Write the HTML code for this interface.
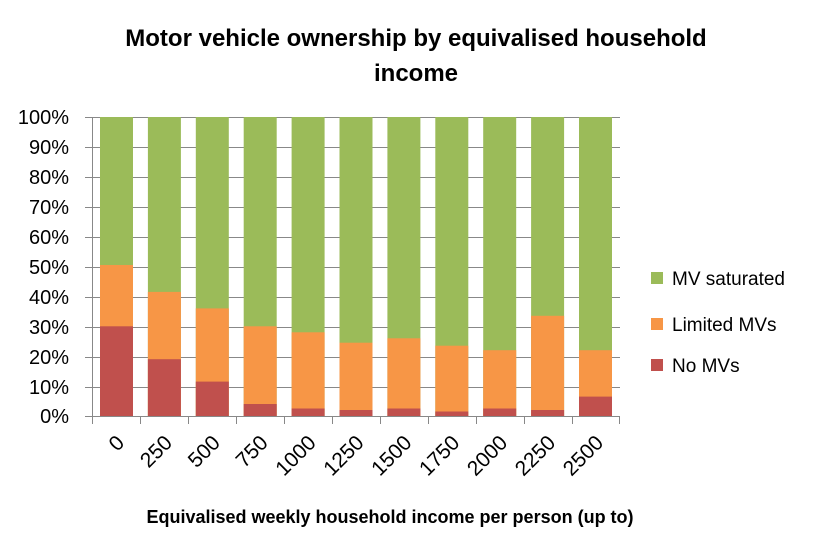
<!DOCTYPE html><html><head><style>body{margin:0;background:#fff}</style></head><body>
<svg width="832" height="553" xmlns="http://www.w3.org/2000/svg" font-family="Liberation Sans, sans-serif">
<rect width="832" height="553" fill="#fff"/>
<text x="416" y="46" text-anchor="middle" font-size="24" font-weight="bold">Motor vehicle ownership by equivalised household</text>
<text x="416" y="81" text-anchor="middle" font-size="24" font-weight="bold">income</text>
<g stroke="#888" stroke-width="1">
<line x1="85" y1="117.5" x2="620" y2="117.5"/><line x1="85" y1="147.5" x2="620" y2="147.5"/><line x1="85" y1="177.5" x2="620" y2="177.5"/><line x1="85" y1="207.5" x2="620" y2="207.5"/><line x1="85" y1="237.5" x2="620" y2="237.5"/><line x1="85" y1="267.5" x2="620" y2="267.5"/><line x1="85" y1="297.5" x2="620" y2="297.5"/><line x1="85" y1="327.5" x2="620" y2="327.5"/><line x1="85" y1="357.5" x2="620" y2="357.5"/><line x1="85" y1="387.5" x2="620" y2="387.5"/><line x1="85" y1="416.5" x2="620" y2="416.5"/>
<line x1="92.5" y1="117" x2="92.5" y2="424"/>
</g>
<g font-size="20" text-anchor="end" fill="#000">
<text x="69" y="124">100%</text><text x="69" y="154">90%</text><text x="69" y="184">80%</text><text x="69" y="214">70%</text><text x="69" y="244">60%</text><text x="69" y="274">50%</text><text x="69" y="304">40%</text><text x="69" y="334">30%</text><text x="69" y="364">20%</text><text x="69" y="394">10%</text><text x="69" y="423">0%</text>
</g>
<g fill="#9BBB59">
<rect x="100" y="117" width="33" height="299"/><rect x="147.9" y="117" width="33" height="299"/><rect x="195.8" y="117" width="33" height="299"/><rect x="243.7" y="117" width="33" height="299"/><rect x="291.6" y="117" width="33" height="299"/><rect x="339.5" y="117" width="33" height="299"/><rect x="387.4" y="117" width="33" height="299"/><rect x="435.3" y="117" width="33" height="299"/><rect x="483.2" y="117" width="33" height="299"/><rect x="531.1" y="117" width="33" height="299"/><rect x="579" y="117" width="33" height="299"/>
</g>
<g fill="#F79646">
<rect x="100" y="265" width="33" height="151"/><rect x="147.9" y="291.9" width="33" height="124.1"/><rect x="195.8" y="308.4" width="33" height="107.6"/><rect x="243.7" y="326.3" width="33" height="89.7"/><rect x="291.6" y="332.3" width="33" height="83.7"/><rect x="339.5" y="342.7" width="33" height="73.3"/><rect x="387.4" y="338.3" width="33" height="77.7"/><rect x="435.3" y="345.7" width="33" height="70.3"/><rect x="483.2" y="350.2" width="33" height="65.8"/><rect x="531.1" y="315.8" width="33" height="100.2"/><rect x="579" y="350.2" width="33" height="65.8"/>
</g>
<g fill="#C0504D">
<rect x="100" y="326.3" width="33" height="89.7"/><rect x="147.9" y="359.2" width="33" height="56.8"/><rect x="195.8" y="381.6" width="33" height="34.4"/><rect x="243.7" y="404" width="33" height="12"/><rect x="291.6" y="408.5" width="33" height="7.5"/><rect x="339.5" y="410" width="33" height="6"/><rect x="387.4" y="408.5" width="33" height="7.5"/><rect x="435.3" y="411.5" width="33" height="4.5"/><rect x="483.2" y="408.5" width="33" height="7.5"/><rect x="531.1" y="410" width="33" height="6"/><rect x="579" y="396.6" width="33" height="19.4"/>
</g>
<g stroke="#888"><line x1="85" y1="416.5" x2="620" y2="416.5"/><line x1="140.5" y1="416" x2="140.5" y2="424"/><line x1="188.5" y1="416" x2="188.5" y2="424"/><line x1="236.5" y1="416" x2="236.5" y2="424"/><line x1="284.5" y1="416" x2="284.5" y2="424"/><line x1="332.5" y1="416" x2="332.5" y2="424"/><line x1="380.5" y1="416" x2="380.5" y2="424"/><line x1="428.5" y1="416" x2="428.5" y2="424"/><line x1="476.5" y1="416" x2="476.5" y2="424"/><line x1="524.5" y1="416" x2="524.5" y2="424"/><line x1="572.5" y1="416" x2="572.5" y2="424"/><line x1="619.5" y1="416" x2="619.5" y2="424"/></g>
<g font-size="21" text-anchor="end">
<text x="125.5" y="444" transform="rotate(-45 125.5 444)">0</text>
<text x="173.4" y="444" transform="rotate(-45 173.4 444)">250</text>
<text x="221.3" y="444" transform="rotate(-45 221.3 444)">500</text>
<text x="269.2" y="444" transform="rotate(-45 269.2 444)">750</text>
<text x="317.1" y="444" transform="rotate(-45 317.1 444)">1000</text>
<text x="365" y="444" transform="rotate(-45 365 444)">1250</text>
<text x="412.9" y="444" transform="rotate(-45 412.9 444)">1500</text>
<text x="460.8" y="444" transform="rotate(-45 460.8 444)">1750</text>
<text x="508.7" y="444" transform="rotate(-45 508.7 444)">2000</text>
<text x="556.6" y="444" transform="rotate(-45 556.6 444)">2250</text>
<text x="604.5" y="444" transform="rotate(-45 604.5 444)">2500</text>
</g>
<text x="390" y="523" text-anchor="middle" font-size="18" font-weight="bold">Equivalised weekly household income per person (up to)</text>
<rect x="651" y="272" width="12" height="12" fill="#9BBB59"/><text x="672" y="285" font-size="19">MV saturated</text>
<rect x="651" y="318" width="12" height="12" fill="#F79646"/><text x="672" y="331" font-size="19">Limited MVs</text>
<rect x="651" y="359" width="12" height="12" fill="#C0504D"/><text x="672" y="372" font-size="19">No MVs</text>
</svg></body></html>
